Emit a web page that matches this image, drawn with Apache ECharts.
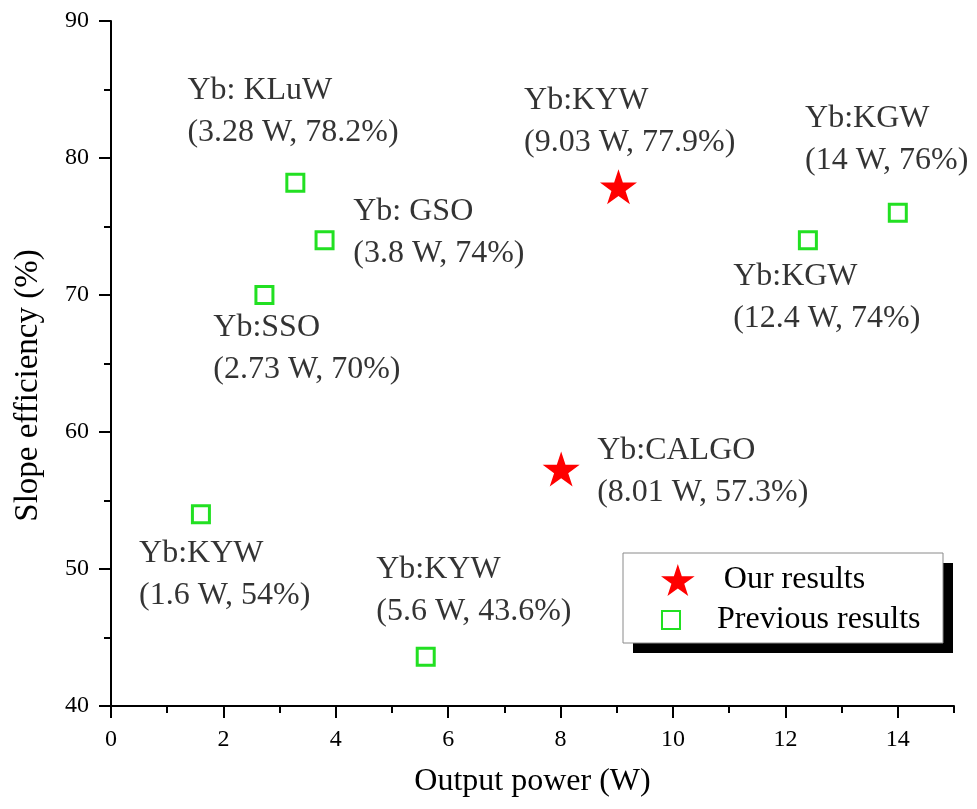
<!DOCTYPE html>
<html>
<head>
<meta charset="utf-8">
<script src="https://cdn.jsdelivr.net/npm/echarts@6/dist/echarts.min.js"></script>
<style>
html,body{margin:0;padding:0;background:#fff;}
#chart{width:977px;height:809px;}
</style>
</head>
<body>
<div id="chart"></div>
<script>
// ---- data ----
var ourPoints = [[9.03, 77.9], [8.01, 57.3]];
var previousPoints = [[3.28, 78.2], [3.8, 74], [2.73, 70], [1.6, 54], [5.6, 43.6], [12.4, 74], [14, 76]];
var annotationTexts = [
  'Yb: KLuW\n(3.28 W, 78.2%)',
  'Yb:KYW\n(9.03 W, 77.9%)',
  'Yb:KGW\n(14 W, 76%)',
  'Yb: GSO\n(3.8 W, 74%)',
  'Yb:KGW\n(12.4 W, 74%)',
  'Yb:SSO\n(2.73 W, 70%)',
  'Yb:CALGO\n(8.01 W, 57.3%)',
  'Yb:KYW\n(1.6 W, 54%)',
  'Yb:KYW\n(5.6 W, 43.6%)'
];
// anchor (left edge, vertical centre) of each annotation, in data units
var annotationAnchors = [
  [1.36, 83.4], [7.35, 82.64], [12.35, 81.36], [4.31, 74.55], [11.07, 69.81],
  [1.82, 66.09], [8.65, 57.13], [0.50, 49.62], [4.72, 48.45]
];
var xTicks = [0, 2, 4, 6, 8, 10, 12, 14];
var seriesNames = ['Our results', 'Previous results'];

// ---- chart ----
var FONT = '"Liberation Serif", "Times New Roman", serif';
var STAR = 'path://M50,0 L61.2,34.5 L97.6,34.5 L68.2,55.9 L79.4,90.5 L50,69.1 L20.6,90.5 L31.8,55.9 L2.4,34.5 L38.8,34.5 Z';
var SQUARE = 'path://M0,0 L10,0 L10,10 L0,10 Z';
var GREEN = '#22e022';
var RED = '#ff0000';

var chart = echarts.init(document.getElementById('chart'), null, {renderer: 'canvas'});

var annotationData = annotationTexts.map(function (t, i) {
  return {name: t, value: annotationAnchors[i]};
});

var axisLineStyle = {color: '#000', width: 2};

var option = {
  backgroundColor: '#fff',
  animation: false,
  grid: {left: 111, right: 23, top: 21, bottom: 103, containLabel: false},
  xAxis: [
    {
      type: 'value', min: 0, max: 15, interval: 1, position: 'bottom',
      axisLine: {show: true, lineStyle: axisLineStyle},
      axisTick: {show: true, length: 7, lineStyle: {color: '#000', width: 2}},
      axisLabel: {show: false},
      splitLine: {show: false}
    },
    {
      type: 'value', min: 0, max: 15, interval: 2, position: 'bottom',
      axisLine: {show: false},
      axisTick: {show: true, length: 12, customValues: xTicks, lineStyle: {color: '#000', width: 2}},
      axisLabel: {show: true, customValues: xTicks, fontFamily: FONT, fontSize: 24, color: '#000', margin: 22},
      splitLine: {show: false},
      name: 'Output power (W)', nameLocation: 'middle', nameGap: 60,
      nameTextStyle: {fontFamily: FONT, fontSize: 32, color: '#000'}
    }
  ],
  yAxis: {
    type: 'value', min: 40, max: 90, interval: 10,
    axisLine: {show: true, lineStyle: axisLineStyle},
    axisTick: {show: true, length: 12, lineStyle: {color: '#000', width: 2}},
    minorTick: {show: true, splitNumber: 2, length: 7, lineStyle: {color: '#000', width: 2}},
    axisLabel: {fontFamily: FONT, fontSize: 24, color: '#000', margin: 22},
    splitLine: {show: false},
    minorSplitLine: {show: false},
    name: 'Slope efficiency (%)', nameLocation: 'middle', nameGap: 66,
    nameTextStyle: {fontFamily: FONT, fontSize: 33, color: '#000', padding: [0, 44, 0, 0]}
  },
  legend: [
    {
      data: [seriesNames[0]], orient: 'vertical', left: 661, top: 564, padding: 0,
      itemWidth: 82, itemHeight: 32, symbolKeepAspect: true,
      textStyle: {fontFamily: FONT, fontSize: 32, color: '#000'},
      selectedMode: false
    },
    {
      data: [seriesNames[1]], orient: 'vertical', left: 661, top: 604, padding: 0,
      itemWidth: 82, itemHeight: 18, symbolKeepAspect: true,
      textStyle: {fontFamily: FONT, fontSize: 32, color: '#000'},
      selectedMode: false
    }
  ],
  graphic: [
    {type: 'rect', z: 1, shape: {x: 633, y: 563, width: 320, height: 90}, style: {fill: '#000'}},
    {type: 'rect', z: 2, shape: {x: 623, y: 553, width: 320, height: 90}, style: {fill: '#fff', stroke: '#8a8a8a', lineWidth: 1}}
  ],
  series: [
    {
      name: seriesNames[1], type: 'scatter', xAxisIndex: 0,
      symbol: SQUARE, symbolSize: 17, symbolKeepAspect: true,
      itemStyle: {color: '#fff', borderColor: GREEN, borderWidth: 3, opacity: 1},
      data: previousPoints, z: 3
    },
    {
      name: seriesNames[0], type: 'scatter', xAxisIndex: 0,
      symbol: STAR, symbolSize: 37, symbolKeepAspect: true,
      itemStyle: {color: RED, opacity: 1},
      data: ourPoints, z: 3
    },
    {
      name: 'annotations', type: 'scatter', xAxisIndex: 0, silent: true,
      symbolSize: 0, data: annotationData, z: 3,
      label: {
        show: true, position: 'right', distance: 0, align: 'left',
        formatter: function (p) { return p.name; },
        fontFamily: FONT, fontSize: 32, lineHeight: 42, color: '#000'
      }
    }
  ]
};
chart.setOption(option);
</script>
</body>
</html>
